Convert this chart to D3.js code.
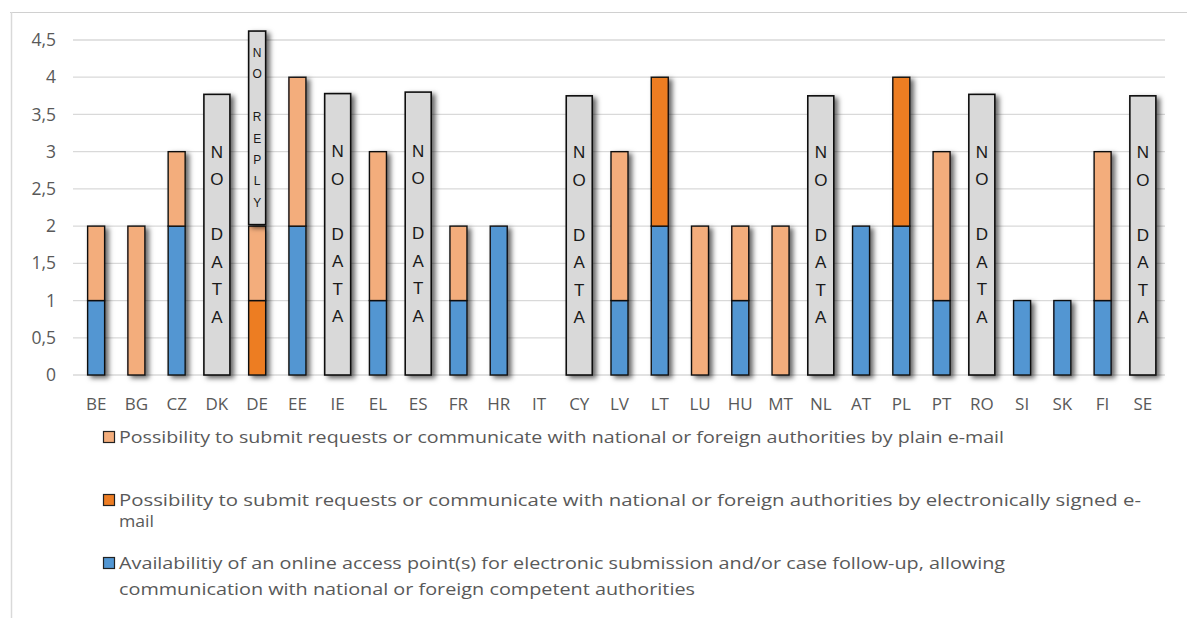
<!DOCTYPE html>
<html>
<head>
<meta charset="utf-8">
<script src="https://cdn.jsdelivr.net/npm/d3@7"></script>
<style>
  html, body { margin: 0; padding: 0; background: #fff; }
  svg { display: block; }
</style>
</head>
<body>
<svg id="chart" width="1187" height="618"></svg>
<script>
// ---- data ----
const categories = ["BE","BG","CZ","DK","DE","EE","IE","EL","ES","FR","HR","IT","CY","LV","LT","LU","HU","MT","NL","AT","PL","PT","RO","SI","SK","FI","SE"];
const onlineAccess = [1,0,2,0,0,2,0,1,0,1,2,0,0,1,2,0,1,0,0,2,2,1,0,1,1,1,0];
const signedEmail  = [0,0,0,0,1,0,0,0,0,0,0,0,0,0,2,0,0,0,0,0,2,0,0,0,0,0,0];
const plainEmail   = [1,2,1,0,1,2,0,2,0,1,0,0,0,2,0,2,1,2,0,0,0,2,0,0,0,2,0];
const noDataCats = ["DK","IE","ES","CY","NL","RO","SE"];
const noDataVals = [3.77,3.78,3.8,3.75,3.75,3.77,3.75];
const noReplyCats = ["DE"];
const noReplyBase = [2.02];
const noReplyVals = [2.6];
const yTicks = [0,0.5,1,1.5,2,2.5,3,3.5,4,4.5];
const seriesKeys = ["online","signed","plain"];
const seriesLabels = {
  plain: ["Possibility to submit requests or communicate with national or foreign authorities by plain e-mail"],
  signed: ["Possibility to submit requests or communicate with national or foreign authorities by electronically signed e-", "mail"],
  online: ["Availabilitiy of an online access point(s) for electronic submission and/or case follow-up, allowing", "communication with national or foreign competent authorities"]
};
const colors = { online: "#5296d2", signed: "#ed7d24", plain: "#f3ad7c" };

// ---- layout ----
const svg = d3.select("#chart");
const defs = svg.append("defs");
const f = defs.append("filter").attr("id","shadow").attr("x","-50%").attr("y","-10%").attr("width","250%").attr("height","130%");
f.append("feDropShadow").attr("dx",3.5).attr("dy",2.5).attr("stdDeviation",2.8).attr("flood-color","#000").attr("flood-opacity",0.6);
const ff = defs.append("filter").attr("id","frameShadow").attr("x","-5%").attr("y","-50%").attr("width","110%").attr("height","300%");
ff.append("feGaussianBlur").attr("stdDeviation",1.5);

// frame
svg.append("line").attr("x1",10).attr("x2",1187).attr("y1",12).attr("y2",12)
  .attr("stroke","#bfbfbf").attr("stroke-width",3).attr("filter","url(#frameShadow)");
svg.append("line").attr("x1",10).attr("x2",1187).attr("y1",12.5).attr("y2",12.5)
  .attr("stroke","#d0d0d0").attr("stroke-width",1);
svg.append("line").attr("x1",11.5).attr("x2",11.5).attr("y1",12).attr("y2",618)
  .attr("stroke","#d9d9d9").attr("stroke-width",1.5);

const x = d3.scaleBand().domain(categories).range([76, 1163]).paddingInner(0).paddingOuter(0);
const y = d3.scaleLinear().domain([0, 4.5]).range([375, 40]);

// gridlines
svg.append("g").selectAll("line").data(yTicks).join("line")
  .attr("x1",73).attr("x2",1165)
  .attr("y1",d=>y(d)).attr("y2",d=>y(d))
  .attr("stroke","#d9d9d9").attr("stroke-width",1.3);

// y axis labels
const yAxis = d3.axisLeft(y).tickValues(yTicks).tickSize(0).tickPadding(0)
  .tickFormat(d => String(d).replace(".", ","));
const yg = svg.append("g").attr("transform","translate(56,0)").call(yAxis);
yg.select(".domain").remove();
yg.selectAll("text").attr("font-family","'Open Sans', sans-serif").attr("font-size",17.5).attr("fill","#595959");

// x axis labels
const xAxis = d3.axisBottom(x).tickSize(0).tickPadding(0);
const xg = svg.append("g").attr("transform","translate(0,398)").call(xAxis);
xg.select(".domain").remove();
xg.selectAll("text").attr("font-family","'Open Sans', sans-serif").attr("font-size",17).attr("fill","#595959");

// stacked data
const rows = categories.map((c,i)=>({cat:c, online:onlineAccess[i], signed:signedEmail[i], plain:plainEmail[i]}));
const stacked = d3.stack().keys(seriesKeys)(rows);
const barW = 17;

const barGroups = svg.append("g").selectAll("g.cat").data(categories).join("g")
  .attr("class","cat").attr("filter","url(#shadow)");
barGroups.each(function(cat, i){
  const g = d3.select(this);
  stacked.forEach(layer=>{
    const d = layer[i];
    if (d[1] - d[0] <= 0) return;
    g.append("rect")
      .attr("x", x(cat) + x.bandwidth()/2 - barW/2)
      .attr("width", barW)
      .attr("y", y(d[1]))
      .attr("height", y(d[0]) - y(d[1]))
      .attr("fill", colors[layer.key])
      .attr("stroke","#111").attr("stroke-width",1.4);
  });
});

// NO DATA bars
const ndW = 26;
const nd = svg.append("g").selectAll("g").data(noDataCats).join("g");
nd.append("rect")
  .attr("x", d => x(d) + x.bandwidth()/2 - ndW/2)
  .attr("width", ndW)
  .attr("y", (d,i) => y(noDataVals[i]))
  .attr("height", (d,i) => y(0) - y(noDataVals[i]))
  .attr("fill","#d9d9d9").attr("stroke","#111").attr("stroke-width",1.6)
  .attr("filter","url(#shadow)");
const ndLetters = "NO DATA".split("");
nd.each(function(cat,i){
  const cy = (y(noDataVals[i]) + y(0))/2;
  const step = 27.5;
  d3.select(this).selectAll("text").data(ndLetters).join("text")
    .attr("x", x(cat) + x.bandwidth()/2)
    .attr("y", (ch,k) => cy + (k-3)*step)
    .attr("text-anchor","middle").attr("dominant-baseline","central")
    .attr("font-family","'Liberation Sans', Arial, sans-serif").attr("font-size",17)
    .attr("fill","#1a1a1a")
    .text(ch=>ch);
});

// NO REPLY bar
const nrW = 17;
const nr = svg.append("g").selectAll("g").data(noReplyCats).join("g");
nr.append("rect")
  .attr("x", d => x(d) + x.bandwidth()/2 - nrW/2)
  .attr("width", nrW)
  .attr("y", (d,i) => y(noReplyBase[i] + noReplyVals[i]))
  .attr("height", (d,i) => y(noReplyBase[i]) - y(noReplyBase[i] + noReplyVals[i]))
  .attr("fill","#d9d9d9").attr("stroke","#111").attr("stroke-width",1.6)
  .attr("filter","url(#shadow)");
const nrLetters = "NO REPLY".split("");
nr.each(function(cat,i){
  const cy = (y(noReplyBase[i]) + y(noReplyBase[i] + noReplyVals[i]))/2;
  const step = 21.4;
  d3.select(this).selectAll("text").data(nrLetters).join("text")
    .attr("x", x(cat) + x.bandwidth()/2)
    .attr("y", (ch,k) => cy + (k-3.5)*step)
    .attr("text-anchor","middle").attr("dominant-baseline","central")
    .attr("font-family","'Liberation Sans', Arial, sans-serif").attr("font-size",12)
    .attr("fill","#1a1a1a")
    .text(ch=>ch);
});

// legend
const legendItems = [
  {key:"plain", y:[437]},
  {key:"signed", y:[500, 521]},
  {key:"online", y:[563, 589]}
];
const lineWidths = {plain:[885], signed:[1022, 35], online:[886, 576]};
const lg = svg.append("g");
legendItems.forEach(item=>{
  lg.append("rect").attr("x",103.5).attr("y",item.y[0]-5.5).attr("width",11).attr("height",11)
    .attr("fill",colors[item.key]).attr("stroke","#222").attr("stroke-width",1.2);
  seriesLabels[item.key].forEach((line,k)=>{
    lg.append("text").attr("x",119).attr("y",item.y[k])
      .attr("dominant-baseline","central")
      .attr("font-family","'Open Sans', sans-serif").attr("font-size",16)
      .attr("fill","#595959")
      .attr("textLength", lineWidths[item.key][k]).attr("lengthAdjust","spacingAndGlyphs")
      .text(line);
  });
});
</script>
</body>
</html>
